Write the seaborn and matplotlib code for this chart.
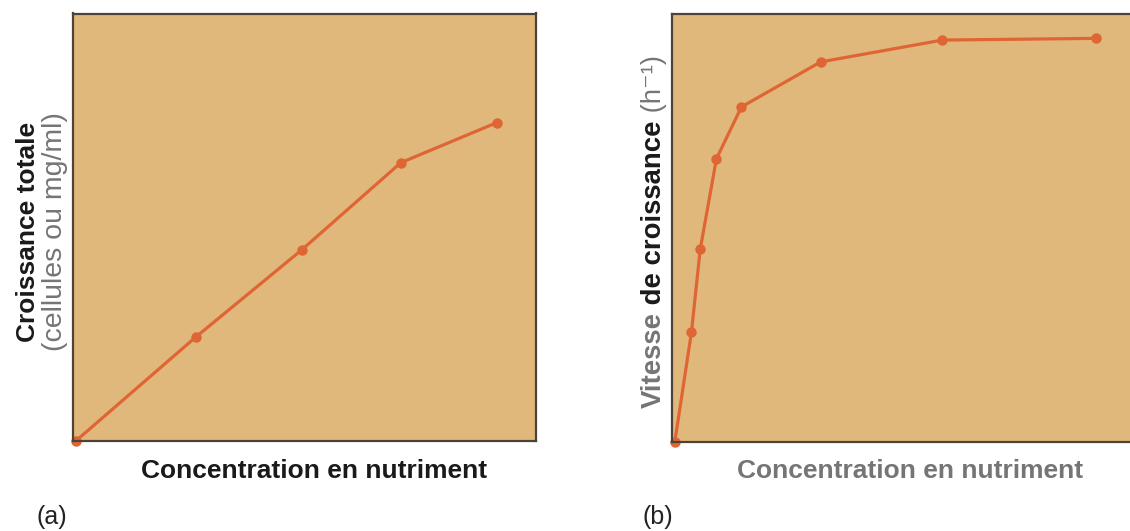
import numpy as np
import pandas as pd
import matplotlib
matplotlib.use("Agg")
import matplotlib.pyplot as plt
import seaborn as sns

# (a) croissance totale vs concentration (unités relatives 0-100)
conc_a = [0.6, 26.5, 49.4, 70.8, 91.6]
crois_a = [0.0, 24.3, 44.7, 65.1, 74.5]

# (b) vitesse de croissance vs concentration
conc_b = [0.6, 4.2, 6.1, 9.6, 15.0, 32.1, 58.4, 91.5]
vit_b = [0.0, 25.6, 45.0, 66.1, 78.2, 88.7, 93.8, 94.2]

FILL = "#e1b87b"
LINE = "#df6534"
SPINE = "#4d4237"
GRAY = "#757575"
FONT = ["Liberation Sans", "DejaVu Sans"]

sns.set_style("white")
plt.rcParams["font.family"] = FONT

W, H = 1130, 531
fig = plt.figure(figsize=(W / 100, H / 100), dpi=100)

def px(x, y):
    # pixel (from top-left) -> figure fraction
    return x / W, (H - y) / H

ax_a = fig.add_axes([73 / W, (H - 441) / H, 463 / W, 427.5 / H])
ax_b = fig.add_axes([672 / W, (H - 442) / H, 463 / W, 428.5 / H])

df_a = pd.DataFrame({"x": conc_a, "y": crois_a})
df_b = pd.DataFrame({"x": conc_b, "y": vit_b})

for ax, df in [(ax_a, df_a), (ax_b, df_b)]:
    ax.set_facecolor(FILL)
    sns.lineplot(data=df, x="x", y="y", ax=ax, color=LINE, linewidth=2.3,
                 marker="o", markersize=7.5, markeredgewidth=0, sort=False)
    for ln in ax.lines:
        ln.set_clip_on(False)
    ax.set_xlim(0, 100)
    ax.set_ylim(0, 100)
    ax.set_xticks([])
    ax.set_yticks([])
    ax.set_xlabel("")
    ax.set_ylabel("")
    for s in ax.spines.values():
        s.set_visible(True)
        s.set_color(SPINE)
        s.set_linewidth(1.6)

# x labels
fig.text(*px(314, 478), "Concentration en nutriment", ha="center", va="baseline",
         fontsize=19, fontweight="bold", color="#1a1a1a")
fig.text(*px(910, 478), "Concentration en nutriment", ha="center", va="baseline",
         fontsize=19, fontweight="bold", color=GRAY)

# y labels (a)
fig.text(*px(35, 232), "Croissance totale", rotation=90, rotation_mode="anchor",
         ha="center", va="baseline", fontsize=19, fontweight="bold", color="#1a1a1a")
fig.text(*px(62, 232), "(cellules ou mg/ml)", rotation=90, rotation_mode="anchor",
         ha="center", va="baseline", fontsize=20.5, color=GRAY)

# y label (b), multi-colour pieces stacked along the axis
parts = [("Vitesse", GRAY, "bold"),
         (" de croissance", "#1a1a1a", "bold"),
         (" (h⁻¹)", GRAY, "normal")]
renderer = fig.canvas.get_renderer()
bx, _ = px(661, 0)
texts = []
for txt, col, wt in parts:
    t = fig.text(bx, 0, txt, rotation=90, rotation_mode="anchor", ha="left",
                 va="baseline", fontsize=19.8, fontweight=wt, color=col)
    texts.append(t)
lengths = [t.get_window_extent(renderer).height / H for t in texts]
y = (H - 231.5) / H - sum(lengths) / 2
for t, L in zip(texts, lengths):
    t.set_position((bx, y))
    y += L

# panel letters
fig.text(*px(37, 524), "(a)", ha="left", va="baseline", fontsize=18, color="#222222")
fig.text(*px(642, 524), "(b)", ha="left", va="baseline", fontsize=18, color="#222222")

fig.savefig("out.png", dpi=100, facecolor="white")
